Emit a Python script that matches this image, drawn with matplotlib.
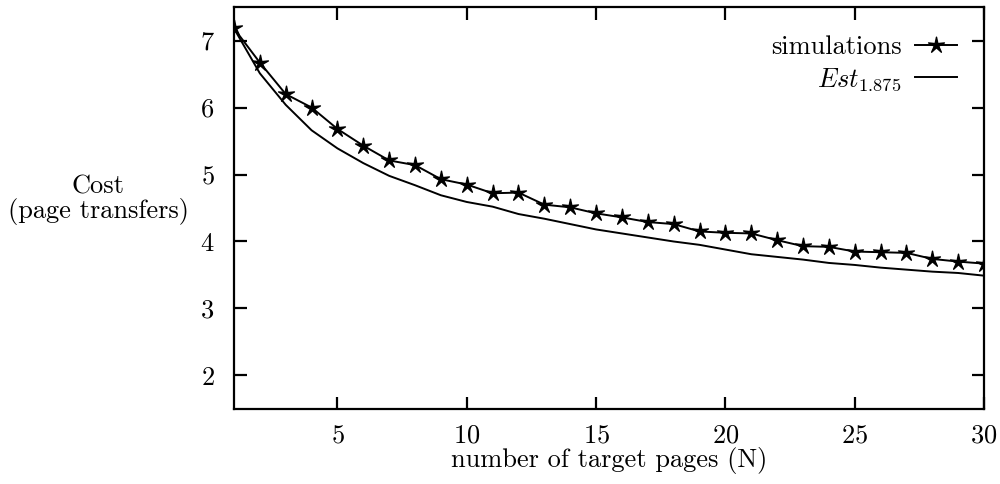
import matplotlib
matplotlib.use("Agg")
import matplotlib.pyplot as plt
from matplotlib.path import Path
import numpy as np

plt.rcParams.update({
    "font.family": "cmr10",
    "mathtext.fontset": "cm",
    "axes.formatter.use_mathtext": True,
    "font.size": 19,
    "axes.linewidth": 1.6,
})

# target pages
pages = list(range(1, 31))

# simulated cost per run
simulations = [7.18, 6.67, 6.20, 6.00, 5.68, 5.43, 5.21, 5.14, 4.93, 4.85,
               4.72, 4.73, 4.55, 4.51, 4.42, 4.36, 4.29, 4.26, 4.15, 4.13,
               4.12, 4.02, 3.93, 3.92, 3.85, 3.84, 3.83, 3.74, 3.70, 3.67]

# estimate with parameter 1.875
estimate = [7.18, 6.51, 6.04, 5.66, 5.39, 5.17, 4.98, 4.84, 4.69, 4.59,
            4.52, 4.41, 4.34, 4.26, 4.18, 4.12, 4.06, 4.00, 3.95, 3.88,
            3.81, 3.77, 3.73, 3.68, 3.65, 3.61, 3.58, 3.55, 3.53, 3.49]


def thin_star(inner=0.28):
    # five-pointed star with narrow arms
    ang = np.pi / 2 + np.arange(10) * np.pi / 5
    rad = np.where(np.arange(10) % 2 == 0, 1.0, inner)
    verts = np.column_stack([rad * np.cos(ang), rad * np.sin(ang)])
    verts = np.vstack([verts, verts[:1]])
    codes = [Path.MOVETO] + [Path.LINETO] * 9 + [Path.CLOSEPOLY]
    return Path(verts, codes)


star = thin_star()

fig = plt.figure(figsize=(10, 4.84), dpi=100)
ax = fig.add_axes([0.234, 0.155, 0.750, 0.8305])

ax.plot(pages, simulations, color="black", linewidth=1.4, marker=star,
        markersize=12, label="simulations")
ax.plot(pages, estimate, color="black", linewidth=1.4,
        label=r"$Est_{1.875}$")

ax.set_xlim(1, 30)
ax.set_ylim(1.5, 7.5)
ax.set_xticks([5, 10, 15, 20, 25, 30])
ax.set_yticks([2, 3, 4, 5, 6, 7])
ax.tick_params(direction="in", length=9, width=1.6, top=True, right=True,
               labelsize=19)
ax.tick_params(axis="x", pad=11)
ax.tick_params(axis="y", pad=14)

ax.set_xlabel("number of target pages (N)", labelpad=-1)
ax.text(-0.181, 0.52, "Cost\n(page transfers)", transform=ax.transAxes,
        ha="center", va="center", multialignment="center", fontsize=19,
        linespacing=1.0)

ax.legend(loc="upper right", bbox_to_anchor=(0.989, 0.975), frameon=False,
          markerfirst=False, handlelength=1.6, fontsize=19,
          borderaxespad=0.4, borderpad=0.3, labelspacing=0.25,
          handletextpad=0.5)

fig.savefig("out.png", dpi=100)
